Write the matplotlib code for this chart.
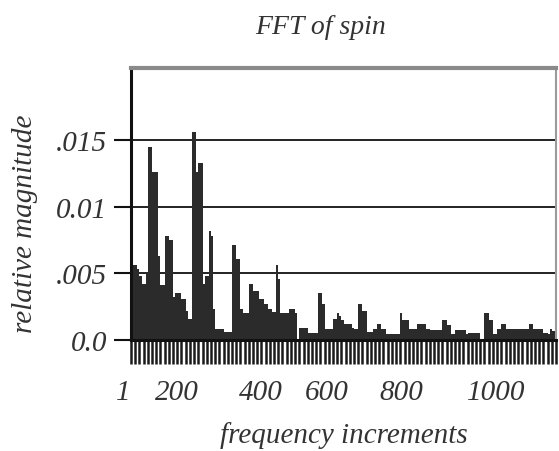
import numpy as np
import matplotlib
matplotlib.use("Agg")
import matplotlib.pyplot as plt
from matplotlib.transforms import blended_transform_factory

# ---- data (relative magnitude per frequency bin) ----
magnitude = [
    0.0033, 0.0056, 0.0056, 0.0053, 0.0048, 0.0042, 0.0042, 0.0051, 0.0145, 0.0145,
    0.0126, 0.0126, 0.0126, 0.0063, 0.0041, 0.0041, 0.0078, 0.0078, 0.0075, 0.0075,
    0.0032, 0.0035, 0.0035, 0.0035, 0.0031, 0.0031, 0.0022, 0.0016, 0.0016, 0.0156,
    0.0156, 0.0126, 0.0133, 0.0133, 0.0042, 0.0048, 0.0048, 0.0082, 0.0078, 0.0023,
    0.0008, 0.0008, 0.0008, 0.0008, 0.0006, 0.0006, 0.0006, 0.0006, 0.0071, 0.0071,
    0.0061, 0.0061, 0.0023, 0.0020, 0.0020, 0.0020, 0.0042, 0.0042, 0.0037, 0.0037,
    0.0037, 0.0031, 0.0031, 0.0027, 0.0027, 0.0023, 0.0023, 0.0021, 0.0021, 0.0056,
    0.0046, 0.0020, 0.0020, 0.0020, 0.0020, 0.0023, 0.0023, 0.0023, 0.0020, 0.0001,
    0.0009, 0.0009, 0.0009, 0.0009, 0.0005, 0.0005, 0.0005, 0.0005, 0.0005, 0.0035,
    0.0035, 0.0027, 0.0008, 0.0008, 0.0008, 0.0008, 0.0016, 0.0016, 0.0020, 0.0018,
    0.0015, 0.0012, 0.0012, 0.0012, 0.0012, 0.0009, 0.0008, 0.0008, 0.0027, 0.0027,
    0.0022, 0.0022, 0.0006, 0.0006, 0.0006, 0.0008, 0.0008, 0.0012, 0.0012, 0.0008,
    0.0008, 0.00045, 0.00045, 0.00045, 0.00045, 0.00045, 0.00045, 0.00045, 0.0020, 0.0015,
    0.0015, 0.0015, 0.0008, 0.0008, 0.0008, 0.0008, 0.0012, 0.0012, 0.0012, 0.0012,
    0.0008, 0.0008, 0.00075, 0.00075, 0.00075, 0.00075, 0.00075, 0.00075, 0.0015, 0.0015,
    0.0011, 0.0011, 0.00045, 0.00045, 0.00075, 0.00075, 0.00075, 0.00075, 0.00075, 0.00045,
    0.0005, 0.0005, 0.0005, 0.0005, 0.0005, 0.0005, 0.0001, 0.0001, 0.0020, 0.0020,
    0.0015, 0.0015, 0.00045, 0.00045, 0.0008, 0.0008, 0.0012, 0.0012, 0.0008, 0.0008,
    0.0008, 0.0008, 0.0008, 0.0008, 0.0008, 0.0008, 0.0008, 0.0008, 0.0008, 0.0012,
    0.0012, 0.0008, 0.0008, 0.0008, 0.0008, 0.0008, 0.0005, 0.0005, 0.00045, 0.0008,
    0.0007, 0.0007,
]
bins = np.arange(len(magnitude))

x_tick_labels = ["1", "200", "400", "600", "800", "1000"]
x_tick_pos = [-3.8, 21.9, 61.8, 93.1, 128.7, 173.4]   # label positions in bin units
y_ticks = [0.0, 0.005, 0.01, 0.015]
y_tick_labels = ["0.0", ".005", "0.01", ".015"]

title = "FFT of spin"
xlabel = "frequency increments"
ylabel = "relative magnitude"

# ---- styling ----
FONT = {"family": "Liberation Serif", "style": "italic"}
TXT = "#333333"
W, H = 559, 452
fig = plt.figure(figsize=(W / 100, H / 100), dpi=100)
left, right, top, bottom = 131, 556, 69, 341
ax = fig.add_axes([left / W, 1 - bottom / H, (right - left) / W, (bottom - top) / H])

ax.bar(bins, magnitude, width=1.0, align="edge", color="#2b2b2b", edgecolor="none", zorder=2)

ax.set_xlim(0, len(magnitude))
ax.set_ylim(0, 0.0204)

# y axis
ax.set_yticks(y_ticks)
ax.set_yticklabels(y_tick_labels, fontdict=dict(FONT, size=21), color=TXT)
ax.tick_params(axis="y", direction="out", length=12, width=1.5, color="#111111", pad=5)
ax.grid(axis="y", color="#111111", linewidth=1.3, zorder=1)

# x axis: dense comb of tick marks
ax.set_xticks(np.arange(0, len(magnitude) + 1, 2))
ax.set_xticklabels([])
ax.tick_params(axis="x", direction="out", length=17, width=1.8, color="#1a1a1a")

trans = blended_transform_factory(ax.transData, fig.transFigure)
for lab, pos in zip(x_tick_labels, x_tick_pos):
    ax.text(pos, 1 - 393 / H, lab, transform=trans, ha="center", va="center",
            fontdict=dict(FONT, size=21), color=TXT, clip_on=False)

for side in ["left", "bottom"]:
    ax.spines[side].set_color("#111111")
    ax.spines[side].set_linewidth(2.2)
ax.spines["top"].set_color("#8a8a8a")
ax.spines["top"].set_linewidth(3)
ax.spines["right"].set_color("#9a9a9a")
ax.spines["right"].set_linewidth(1.5)

fig.text(321 / W, 1 - 27 / H, title, ha="center", va="center", fontdict=dict(FONT, size=20), color=TXT)
fig.text(344 / W, 1 - 436 / H, xlabel, ha="center", va="center", fontdict=dict(FONT, size=21), color=TXT)
fig.text(25 / W, 1 - 224 / H, ylabel, ha="center", va="center", rotation=90,
         fontdict=dict(FONT, size=21), color=TXT)

fig.savefig("out.png", dpi=100, facecolor="white")
